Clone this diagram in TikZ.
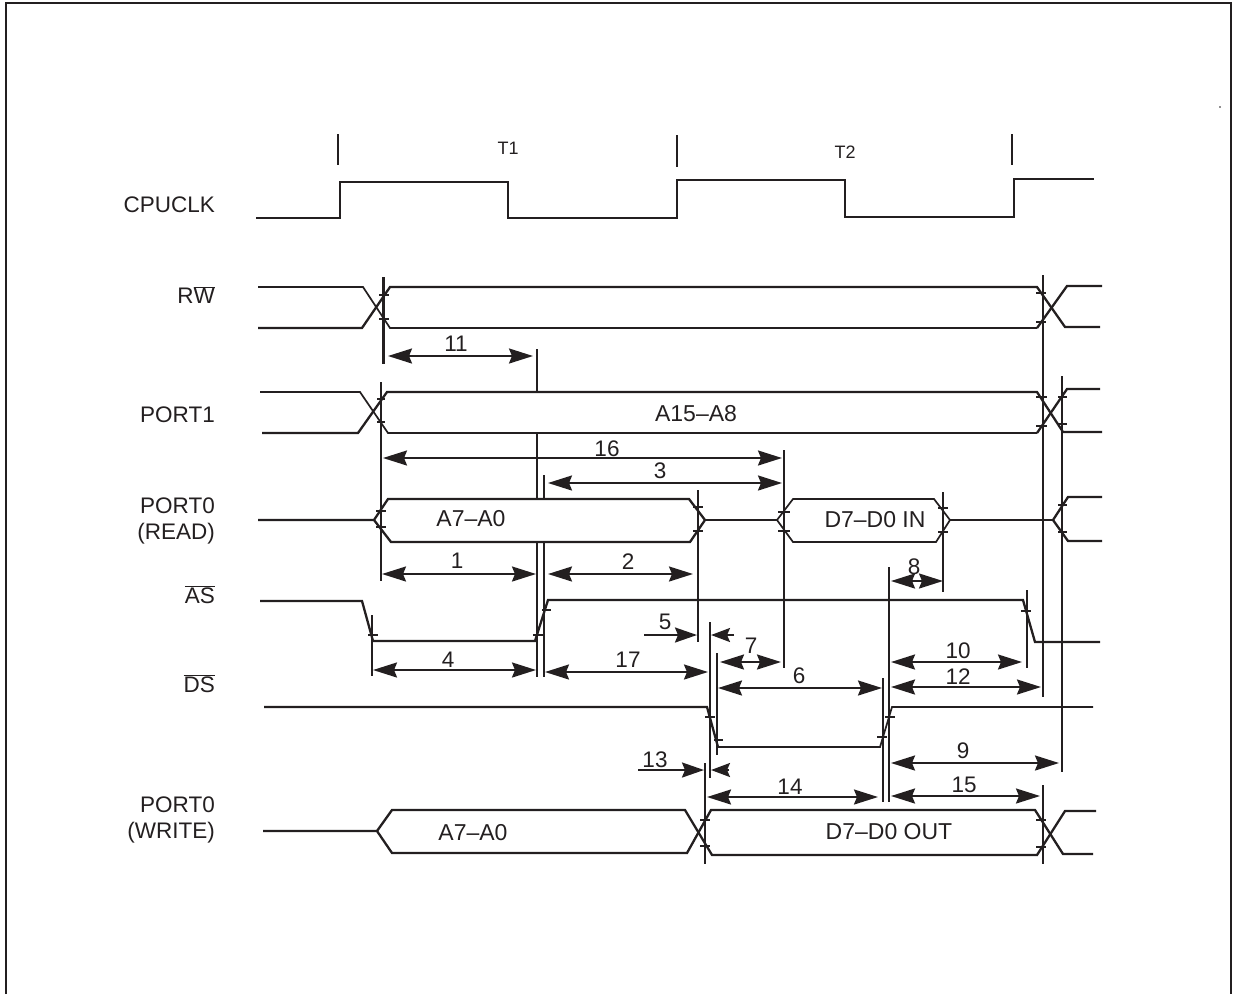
\documentclass[tikz,border=0pt]{standalone}
\usepackage{fontspec}
\setmainfont{Liberation Sans}
\usepackage{xcolor}
\usepackage{tikz}
\usetikzlibrary{arrows.meta}
\definecolor{tmink}{HTML}{231F20}
\tikzset{
  sig/.style={draw=tmink,line width=2.3pt,line join=miter},
  sigthin/.style={draw=tmink,line width=1.7pt},
  vref/.style={draw=tmink,line width=2.3pt},
  tick/.style={draw=tmink,line width=2pt},
  dim/.style={draw=tmink,line width=2.2pt,{Stealth[length=24pt,width=15pt,inset=3pt]}-{Stealth[length=24pt,width=15pt,inset=3pt]}},
  dimin/.style={draw=tmink,line width=2.2pt,-{Stealth[length=22pt,width=15pt,inset=3pt]}},
  dimshort/.style={draw=tmink,line width=2.2pt,-{Stealth[length=19pt,width=14pt,inset=3pt]}},
  siglabel/.style={font=\fontsize{22.5}{26}\selectfont,text=tmink,anchor=east,inner sep=0pt,align=right},
  buslabel/.style={font=\fontsize{23}{25}\selectfont,text=tmink,inner sep=0pt},
  numlabel/.style={font=\fontsize{22.5}{25}\selectfont,text=tmink,inner sep=0pt},
}
\begin{document}
\begin{tikzpicture}[x=1pt,y=-1pt]
\useasboundingbox (0,0) rectangle (1233,994);
% frame
\draw[draw=tmink,line width=2.4pt] (6,994) -- (6,3) -- (1231,3) -- (1231,994);
\fill[tmink] (1220,107) circle (0.9pt);
% signal names
\node[siglabel] (clk) at (215,205) {CPUCLK};
\node[siglabel] (rw) at (215,295) {R$\overline{\mbox{W}}$};
\node[siglabel] (p1) at (215,415) {PORT1};
\node[siglabel] (p0r) at (215,521) {PORT0\\(READ)};
\node[siglabel] (as) at (215,595) {$\overline{\mbox{AS}}$};
\node[siglabel] (ds) at (215,684) {$\overline{\mbox{DS}}$};
\node[siglabel] (p0w) at (215,820) {PORT0\\(WRITE)};
% clock
\node[font=\fontsize{18}{22}\selectfont,text=tmink] (t1) at (508,148) {T1};
\node[font=\fontsize{18}{22}\selectfont,text=tmink] (t2) at (845,152) {T2};
\foreach \x/\ya/\yb in {338/134/165,677/135/167,1012/134/165}
  \draw[sigthin] (\x,\ya) -- (\x,\yb);
\draw[sig] (256,218) -- (340,218) -- (340,182) -- (508,182) -- (508,218) -- (677,218) -- (677,180) -- (845,180) -- (845,217) -- (1014,217) -- (1014,179) -- (1094,179);
% RW
\draw[sigthin] (258,287) -- (363,287) -- (390,328) -- (1037,328);
\draw[sig] (258,328) -- (362,328) -- (390,287) -- (1037,287) -- (1065,327) -- (1100,327);
\draw[sig] (1037,328) -- (1067,286) -- (1102,286);
% PORT1
\draw[sigthin] (260,392) -- (360,392) -- (388,433) -- (1037,433);
\draw[sig] (262,433) -- (358,433) -- (387,392) -- (1037,392) -- (1063,432) -- (1102,432);
\draw[sig] (1037,433) -- (1067,389) -- (1100,389);
\node[buslabel] (a15) at (696,414) {A15–A8};
% PORT0 read
\draw[sig] (258,520) -- (374,520) -- (388,499) -- (689,499) -- (705,520) -- (690,542) -- (391,542) -- (374,520);
\draw[sigthin] (705,520) -- (777,520);
\draw[sigthin] (793,499) -- (777,520) -- (793,542) -- (936,542) -- (950,520) -- (934,499) -- cycle;
\draw[sigthin] (950,520) -- (1053,520);
\draw[sig] (1102,497) -- (1068,497) -- (1053,520) -- (1068,541) -- (1102,541);
\node[buslabel] (a7r) at (471,519) {A7–A0};
\node[buslabel] (d7in) at (875,520) {D7–D0 IN};
% AS
\draw[sig] (260,601) -- (362,601) -- (373,641) -- (535,641) -- (548,600) -- (1023,600) -- (1035,642) -- (1100,642);
% DS
\draw[sig] (264,707) -- (707,707) -- (718,747);
\draw[sigthin] (718,747) -- (880,747) -- (892,707) -- (1093,707);
% PORT0 write
\draw[sig] (263,831) -- (377,831) -- (392,810) -- (685,810) -- (712,855) -- (1037,855) -- (1065,811) -- (1096,811);
\draw[sig] (377,831) -- (392,853) -- (687,853) -- (711,810) -- (1035,810) -- (1063,854) -- (1093,854);
\node[buslabel] (a7w) at (473,833) {A7–A0};
\node[buslabel] (d7out) at (889,832) {D7–D0 OUT};
% reference lines
\foreach \x/\ya/\yb in {383.5/277/364,381/382/581,537/349/392,537/433/499,544/475/499,537/542/677,544/542/677,698/490/642,784/450/668,943/492/592,372/615/676,1027/590/668,710/622/778,717/653/755,883/678/802,889/567/802,705/763/864,1043/275/697,1062/376/772,1043/785/864}
  \draw[vref] (\x,\ya) -- (\x,\yb);
% small ticks where the edges meet the lines
\foreach \xa/\xb/\y in {379/389/295,379/389/319,377/385/399,377/385/422,376/386/511,376/386/527,693/703/507,693/703/531,778/790/512,778/790/531,938/948/508,938/948/532,1036/1046/293,1036/1046/322,1036/1047/397,1036/1047/426,1058/1067/397,1058/1067/424,1058/1067/505,1058/1067/532,368/378/635,533/544/635,542/551/610,1021/1031/611,705/715/717,714/723/740,877/887/737,885/895/717,700/710/820,700/710/846,1036/1046/820,1036/1046/847}
  \draw[tick] (\xa,\y) -- (\xb,\y);
% timing numbers
\foreach \n/\xa/\xb/\y/\lx/\ly in {11/388/533/356/456/344,16/383/782/458/607/449,3/548/782/483/660/471,1/382/536/574/457/561,2/548/693/574/628/562,4/373/536/670/448/660,17/545/708/672/628/660,7/720/781/662/751/646,6/718/882/688/799/676,8/891/943/581/914/567,10/891/1022/662/958/651,12/891/1041/687/958/677,9/891/1059/763/963/751,14/707/878/797/790/787,15/891/1040/796/964/785} {
  \draw[dim] (\xa,\y) -- (\xb,\y);
  \node[numlabel] (n\n) at (\lx,\ly) {\n};
}
% outside arrows
\draw[dimin] (644,635) -- (697,635);
\draw[dimshort] (734,635) -- (711,635);
\node[numlabel] (n5) at (665,622) {5};
\draw[dimin] (638,770) -- (704,770);
\draw[dimshort] (729,770) -- (711,770);
\node[numlabel] (n13) at (655,760) {13};
\end{tikzpicture}
\end{document}
